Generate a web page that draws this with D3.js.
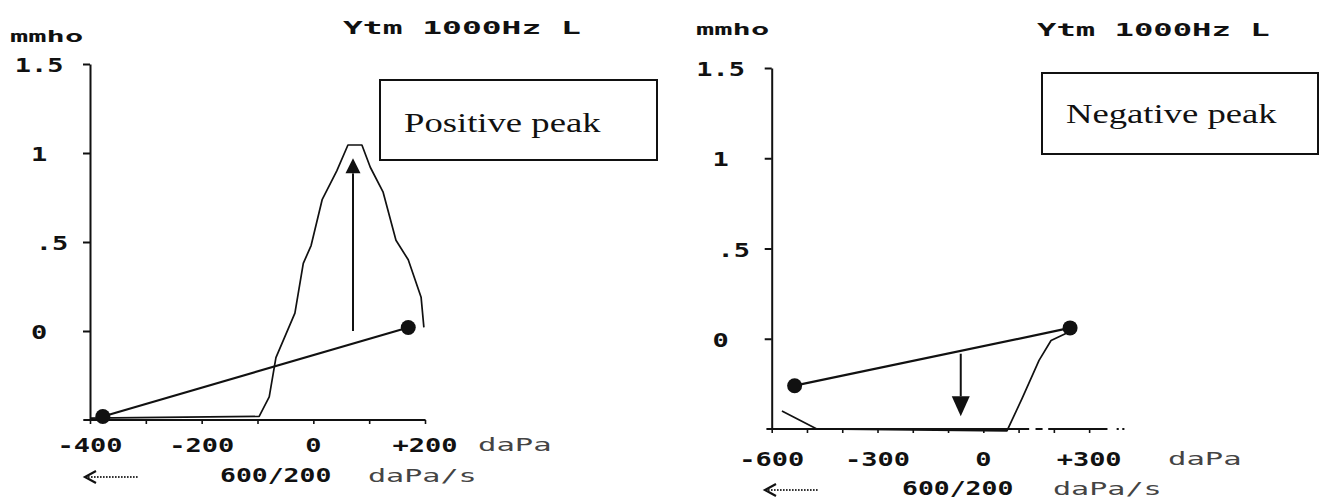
<!DOCTYPE html>
<html>
<head>
<meta charset="utf-8">
<script src="https://cdn.jsdelivr.net/npm/d3@7"></script>
<style>
  html, body { margin: 0; padding: 0; background: #fff; }
  svg { display: block; }
  .mono { font-family: "DejaVu Sans Mono", "Liberation Mono", monospace; font-weight: bold; fill: #111; }
  .unit { font-family: "DejaVu Sans Mono", "Liberation Mono", monospace; font-weight: normal; fill: #444; }
  .note { font-family: "Liberation Serif", "Times New Roman", serif; fill: #111; }
</style>
</head>
<body>
<svg id="chart" width="1321" height="499"></svg>
<script>
// ---- Positive-peak tympanogram (left) ----
const posPressure   = [-400, -97, -79, -67, -33, -18, -4, 16, 42, 62, 87, 102, 125, 148, 170, 193, 198];
const posAdmittance = [-0.49, -0.48, -0.37, -0.15, 0.10, 0.38, 0.48, 0.74, 0.90, 1.045, 1.045, 0.92, 0.78, 0.51, 0.40, 0.19, 0.02];
const posEndPressure   = [-377, 170];
const posEndAdmittance = [-0.48, 0.02];
const posArrowPressure   = 71;
const posArrowAdmittance = [0, 0.97];
const posXTicks      = [-400, -300, -200, -100, 0, 100, 200];
const posXLabelVals  = [-400, -200, 0, 200];
const posXLabels     = ["-400", "-200", "0", "+200"];

// ---- Negative-peak tympanogram (right) ----
const negPressure   = [-571, -472, 67, 110, 158, 192, 246];
const negAdmittance = [-0.40, -0.50, -0.51, -0.33, -0.12, -0.01, 0.04];
const negEndPressure   = [-535, 246];
const negEndAdmittance = [-0.26, 0.06];
const negArrowPressure   = -64;
const negArrowAdmittance = [-0.083, -0.43];
const negXTicks      = [-600, -500, -400, -300, -200, -100, 0, 100, 200, 300];
const negXLabelVals  = [-600, -300, 0, 300];
const negXLabels     = ["-600", "-300", "0", "+300"];
// pieces of the printed pressure axis (the printer left small gaps)
const negAxisRuns    = [[-615, 130], [148, 168], [184, 352], [378, 384], [394, 400]];
const posAxisRuns    = [[-412, 201]];

// ---- shared ----
const yTicks      = [0, 0.5, 1, 1.5];
const yTickLabels = ["0", ".5", "1", "1.5"];
const titleText   = "Ytm 1000Hz L";
const yUnit       = "mmho";
const xUnit       = "daPa";
const rateValue   = "600/200";
const rateUnit    = "daPa/s";

const svg = d3.select("#chart");
const INK = "#111";

// monospace "printer" text, widened horizontally like the instrument print-out
function printText(g, str, x, y, o) {
  return g.append("text")
    .attr("class", o.cls || "mono")
    .attr("font-size", o.size)
    .attr("text-anchor", o.anchor || "start")
    .attr("transform", `translate(${x},${y}) scale(${o.sx},1)`)
    .text(str);
}

function drawPanel(p) {
  const g = svg.append("g");
  const x = d3.scaleLinear().domain(p.xDomain).range(p.xRange);
  const y = d3.scaleLinear().domain([-0.5, 1.5]).range(p.yRange);
  const x0 = x(p.xDomain[0]);

  // admittance axis
  g.append("g")
    .attr("transform", `translate(${x0},0)`)
    .call(d3.axisLeft(y).tickValues(yTicks).tickSize(7).tickSizeOuter(0).tickFormat(""))
    .call(s => s.selectAll("path,line").attr("stroke", INK).attr("stroke-width", 2));

  // pressure axis: ticks from the axis generator, printed baseline drawn as runs
  g.append("g")
    .attr("transform", `translate(0,${y(-0.5)})`)
    .call(d3.axisBottom(x).tickValues(p.xTicks).tickSize(4).tickSizeOuter(0).tickFormat(""))
    .call(s => s.select(".domain").remove())
    .call(s => s.selectAll("line").attr("stroke", INK).attr("stroke-width", 1.6));
  g.selectAll(".run").data(p.axisRuns).join("line")
    .attr("x1", d => x(d[0])).attr("x2", d => x(d[1]))
    .attr("y1", y(-0.5)).attr("y2", y(-0.5))
    .attr("stroke", INK).attr("stroke-width", 2);

  // tympanogram trace
  const pts = p.pressure.map((v, i) => [v, p.admittance[i]]);
  g.append("path")
    .attr("d", d3.line().x(d => x(d[0])).y(d => y(d[1]))(pts))
    .attr("fill", "none").attr("stroke", INK).attr("stroke-width", 1.7)
    .attr("stroke-linejoin", "round");

  // line joining the two end points
  const ends = p.endPressure.map((v, i) => [v, p.endAdmittance[i]]);
  g.append("line")
    .attr("x1", x(ends[0][0])).attr("y1", y(ends[0][1]))
    .attr("x2", x(ends[1][0])).attr("y2", y(ends[1][1]))
    .attr("stroke", INK).attr("stroke-width", 2.2);
  g.selectAll(".dot").data(ends).join("circle")
    .attr("cx", d => x(d[0])).attr("cy", d => y(d[1])).attr("r", 7.5)
    .attr("fill", INK);

  // peak arrow
  const ax = x(p.arrowPressure);
  const ay0 = y(p.arrowAdmittance[0]);
  const ay1 = y(p.arrowAdmittance[1]);
  const dir = ay1 < ay0 ? -1 : 1;
  const hw = p.headW / 2, hh = p.headH;
  g.append("line")
    .attr("x1", ax).attr("x2", ax)
    .attr("y1", ay0).attr("y2", ay1 - dir * hh)
    .attr("stroke", INK).attr("stroke-width", 2);
  g.append("path")
    .attr("d", `M${ax},${ay1} L${ax - hw},${ay1 - dir * hh} L${ax + hw},${ay1 - dir * hh} Z`)
    .attr("fill", INK);

  // annotation box
  g.append("rect")
    .attr("x", p.box[0]).attr("y", p.box[1]).attr("width", p.box[2]).attr("height", p.box[3])
    .attr("fill", "#fff").attr("stroke", INK).attr("stroke-width", 2);
  g.append("text").attr("class", "note")
    .attr("font-size", 28)
    .attr("transform", `translate(${p.noteAt[0]},${p.noteAt[1]}) scale(1.31,1)`)
    .text(p.note);

  // headers
  printText(g, yUnit, p.unitAt[0], p.unitAt[1], { size: 16, sx: 1.9 });
  printText(g, titleText, p.titleAt[0], p.titleAt[1], { size: 18, sx: p.titleSx });

  // admittance tick labels
  yTicks.forEach((v, i) => {
    const lab = yTickLabels[i];
    const shift = lab.startsWith(".") ? 13 : 0;
    printText(g, lab, x0 - 51 + shift, y(v) + 8, { size: 19, sx: 1.42, anchor: "middle" });
  });

  // pressure tick labels
  p.xLabelVals.forEach((v, i) => {
    printText(g, p.xLabels[i], x(v), p.xLabelY, { size: 19, sx: 1.42, anchor: "middle" });
  });
  printText(g, xUnit, p.xUnitX, p.xLabelY - 1, { size: 17, sx: 1.8, cls: "unit" });

  // sweep direction and rate
  const ry = p.rateY;
  g.append("line")
    .attr("x1", p.rateArrow[0] + 3).attr("x2", p.rateArrow[1])
    .attr("y1", ry - 5).attr("y2", ry - 5)
    .attr("stroke", "#333").attr("stroke-width", 2).attr("stroke-dasharray", "1.6,1.4");
  g.append("path")
    .attr("d", `M${p.rateArrow[0] + 11},${ry - 11} L${p.rateArrow[0]},${ry - 5} L${p.rateArrow[0] + 11},${ry + 1}`)
    .attr("fill", "none").attr("stroke", INK).attr("stroke-width", 2.2);
  printText(g, rateValue, p.rateValueX, ry, { size: 19, sx: 1.39 });
  printText(g, rateUnit, p.rateUnitX, ry, { size: 17, sx: 1.77, cls: "unit" });
}

drawPanel({
  xDomain: [-400, 200], xRange: [90, 425], yRange: [420, 64],
  xTicks: posXTicks, xLabelVals: posXLabelVals, xLabels: posXLabels, axisRuns: posAxisRuns,
  pressure: posPressure, admittance: posAdmittance,
  endPressure: posEndPressure, endAdmittance: posEndAdmittance,
  arrowPressure: posArrowPressure, arrowAdmittance: posArrowAdmittance, headW: 15, headH: 15,
  box: [380, 80, 277, 80], noteAt: [404, 132], note: "Positive peak",
  unitAt: [10, 42], titleAt: [343, 34], titleSx: 1.83,
  xLabelY: 452, xUnitX: 478,
  rateY: 482, rateArrow: [85, 138], rateValueX: 220, rateUnitX: 368
});

drawPanel({
  xDomain: [-600, 400], xRange: [771.7, 1124.4], yRange: [429, 68],
  xTicks: negXTicks, xLabelVals: negXLabelVals, xLabels: negXLabels, axisRuns: negAxisRuns,
  pressure: negPressure, admittance: negAdmittance,
  endPressure: negEndPressure, endAdmittance: negEndAdmittance,
  arrowPressure: negArrowPressure, arrowAdmittance: negArrowAdmittance, headW: 18, headH: 20,
  box: [1042, 73, 276, 81], noteAt: [1066, 123], note: "Negative peak",
  unitAt: [696, 35], titleAt: [1037, 36], titleSx: 1.79,
  xLabelY: 466, xUnitX: 1168,
  rateY: 495, rateArrow: [765, 818], rateValueX: 902, rateUnitX: 1053
});
</script>
</body>
</html>
